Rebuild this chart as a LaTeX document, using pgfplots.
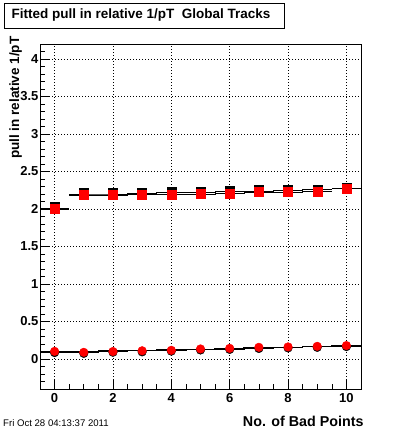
\documentclass[border=0pt]{standalone}
\usepackage{fontspec}
\setmainfont{Liberation Sans}
\usepackage{pgfplots}
\pgfplotsset{compat=1.18}
\begin{document}
\begin{tikzpicture}[x=1pt,y=1pt]
\useasboundingbox (0,0) rectangle (400,433);
\begin{axis}[
  at={(40pt,44pt)}, anchor=south west, scale only axis,
  width=321pt, height=345pt,
  xmin=-0.5, xmax=10.5, ymin=-0.4, ymax=4.2,
  xtick={0,2,4,6,8,10},
  minor xtick={-0.5,0,0.5,1,1.5,2,2.5,3,3.5,4,4.5,5,5.5,6,6.5,7,7.5,8,8.5,9,9.5,10,10.5},
  ytick={0,0.5,1,1.5,2,2.5,3,3.5,4},
  minor ytick={-0.4,-0.3,-0.2,-0.1,0,0.1,0.2,0.3,0.4,0.5,0.6,0.7,0.8,0.9,1,1.1,1.2,1.3,1.4,1.5,1.6,1.7,1.8,1.9,2,2.1,2.2,2.3,2.4,2.5,2.6,2.7,2.8,2.9,3,3.1,3.2,3.3,3.4,3.5,3.6,3.7,3.8,3.9,4,4.1,4.2},
  tick align=inside, xtick pos=bottom, ytick pos=left,
  major tick length=9pt, minor tick length=4.5pt,
  xmajorgrids, ymajorgrids,
  major grid style={black, line width=0.6pt, dash pattern=on 1pt off 2pt},
  axis line style={black, line width=0.9pt},
  tick style={black, line width=0.6pt},
  ticklabel style={font=\bfseries\fontsize{13}{15}\selectfont},
  /pgf/number format/assume math mode=true,
  xticklabel style={yshift=-1pt},
  yticklabel style={xshift=2pt},
  xlabel={No. of Bad Points},
  xlabel style={at={(axis description cs:1.0187,-0.110)}, anchor=base east, font=\bfseries\fontsize{14.3}{16}\selectfont},
  ylabel={pull in relative 1/pT},
  ylabel style={at={(axis description cs:-0.0654,1.0319)}, anchor=base east, font=\bfseries\fontsize{13.5}{15}\selectfont},
]
% fitted lines, squares
\addplot[black, line width=1.6pt] coordinates {(-0.5,2.0) (0,2.0)};
\addplot[black, line width=0.6pt] coordinates {(0,2.007) (0.5,2.007)};
\addplot[black, line width=0.6pt] coordinates {(0,1.99) (0.5,1.99)};
\addplot[black, line width=0.8pt, const plot] coordinates {
  (0.5,2.20) (1.5,2.20) (2.5,2.205) (3.5,2.215) (4.5,2.22) (5.5,2.23) (6.5,2.24) (7.5,2.25) (8.5,2.255) (9.5,2.255)};
\addplot[black, line width=1.8pt] coordinates {(9.5,2.272) (10.5,2.272)};
\addplot[black, line width=0.8pt, const plot] coordinates {
  (0.5,2.18) (1.5,2.18) (2.5,2.19) (3.5,2.195) (4.5,2.20) (5.5,2.21) (6.5,2.22) (7.5,2.225) (8.5,2.23) (9.5,2.23)};
% fitted line, circles
\addplot[black, line width=1.6pt, const plot] coordinates {
  (-0.5,0.095) (0.5,0.097) (1.5,0.104) (2.5,0.112) (3.5,0.12) (4.5,0.128) (5.5,0.137) (6.5,0.146) (7.5,0.155) (8.5,0.165) (9.5,0.176) (10.5,0.176)};
% black markers behind
\addplot[only marks, mark=square*, mark size=4.5pt, black] coordinates {
  (0,2.03) (1,2.215) (2,2.215) (3,2.22) (4,2.225) (5,2.23) (6,2.24) (7,2.255) (8,2.255) (9,2.255) (10,2.29)};
\addplot[only marks, mark=*, mark size=4.3pt, black] coordinates {
  (0,0.085) (1,0.075) (2,0.09) (3,0.095) (4,0.105) (5,0.12) (6,0.128) (7,0.14) (8,0.148) (9,0.155) (10,0.165)};
% red markers
\addplot[only marks, mark=square*, mark size=4.5pt, red] coordinates {
  (0,2.0) (1,2.185) (2,2.185) (3,2.19) (4,2.19) (5,2.20) (6,2.21) (7,2.225) (8,2.225) (9,2.225) (10,2.265)};
\addplot[only marks, mark=*, mark size=4.3pt, red] coordinates {
  (0,0.102) (1,0.089) (2,0.10) (3,0.11) (4,0.116) (5,0.134) (6,0.142) (7,0.156) (8,0.161) (9,0.169) (10,0.179)};
\end{axis}
\draw[line width=0.8pt] (4,405) rectangle (284,430);
\node[font=\bfseries\fontsize{13.5}{15}\selectfont] at (141,417.5) {Fitted pull in relative 1/pT\ \ Global Tracks};
\node[anchor=base west, inner sep=0, font=\fontsize{9.6}{11}\selectfont] at (3,6) {Fri Oct 28 04:13:37 2011};
\end{tikzpicture}
\end{document}
